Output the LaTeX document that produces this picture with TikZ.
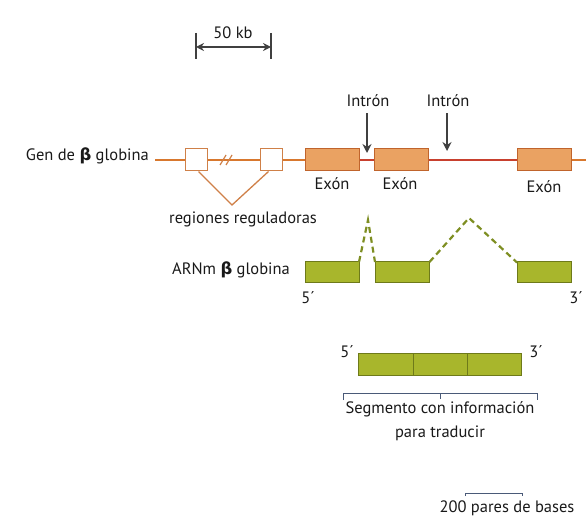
\documentclass[tikz,border=0pt]{standalone}
\usepackage{fontspec}
\setmainfont{PT Sans}
\newfontfamily\grk{DejaVu Sans}
\usetikzlibrary{arrows.meta}
\definecolor{geneline}{HTML}{D8782E}
\definecolor{intronline}{HTML}{C8402E}
\definecolor{exonfill}{HTML}{EAA262}
\definecolor{exondraw}{HTML}{C0642C}
\definecolor{regdraw}{HTML}{CF8048}
\definecolor{mrnafill}{HTML}{A8B62C}
\definecolor{mrnadraw}{HTML}{6E7A1A}
\definecolor{dashcol}{HTML}{7E8E22}
\definecolor{darkarrow}{HTML}{404040}
\definecolor{bracketcol}{HTML}{4A5A78}
\newcommand{\bet}{{\grk\bfseries β}}
\begin{document}
\begin{tikzpicture}[x=1pt,y=-1pt,
  font=\fontsize{16.5}{19}\selectfont,
  lbl/.style={inner sep=0pt, text=black!90},
  regbox/.style={draw=regdraw, fill=white, line width=1pt, minimum width=22pt, minimum height=22pt, inner sep=0pt},
  exonbox/.style={draw=exondraw, fill=exonfill, line width=1pt, minimum width=54pt, minimum height=22pt, inner sep=0pt},
  mrnabox/.style={draw=mrnadraw, fill=mrnafill, line width=1pt, minimum width=54pt, minimum height=21pt, inner sep=0pt},
  geneseg/.style={draw=geneline, line width=2.2pt},
  intronseg/.style={draw=intronline, line width=2.2pt},
  regline/.style={draw=regdraw, line width=1.3pt},
  dashline/.style={draw=dashcol, line width=2.2pt, dash pattern=on 6pt off 4pt},
  darrow/.style={draw=darkarrow, line width=1.8pt, -{Stealth[length=9pt,width=9pt]}},
  thinbar/.style={draw=bracketcol, line width=1pt}
]
\useasboundingbox (0,0) rectangle (586,521);

% 50 kb scale
\node[lbl] (kb) at (233,33) {50 kb};
\coordinate (kbL) at (196,47);
\coordinate (kbR) at (271,47);
\draw[darkarrow, line width=1.3pt] (196,33) -- (196,59);
\draw[darkarrow, line width=1.3pt] (271,33) -- (271,59);
\draw[darkarrow, line width=1.8pt, {Stealth[length=8pt,width=8pt]}-{Stealth[length=8pt,width=8pt]}] (kbL) -- (kbR);

% gene
\node[lbl, anchor=east] (genlbl) at (149,156) {Gen de \bet{} globina};
\coordinate (gstart) at (155,160);
\coordinate (gend) at (586,160);
\node[regbox] (r1) at (196.5,160) {};
\node[regbox] (r2) at (271.5,160) {};
\node[exonbox] (e1) at (332.5,160) {};
\node[exonbox] (e2) at (401.5,160) {};
\node[exonbox] (e3) at (544.5,160) {};
\draw[geneseg] (gstart) -- (r1.west);
\draw[geneseg] (r1.east) -- (r2.west);
\draw[geneseg] (r2.east) -- (e1.west);
\draw[intronseg] (e1.east) -- (e2.west);
\draw[intronseg] (e2.east) -- (e3.west);
\draw[geneseg] (e3.east) -- (gend);
% break marks
\draw[draw=regdraw, line width=1.2pt] (220,165) -- (226,155);
\draw[draw=regdraw, line width=1.2pt] (226,165) -- (232,155);

% regulatory V
\coordinate (vapex) at (232,205);
\draw[regline] ([xshift=2pt]r1.south) -- (vapex) -- ([xshift=-3pt]r2.south);
\node[lbl] (reglbl) at (243,219) {regiones reguladoras};

% introns
\node[lbl] (in1) at (368,101) {Intrón};
\node[lbl] (in2) at (448,101) {Intrón};
\coordinate (in1tip) at (367,153);
\coordinate (in2tip) at (447,151);
\draw[darrow] (in1.south -| in1tip) ++(0,6) -- (in1tip);
\draw[darrow] (in2.south -| in2tip) ++(0,6) -- (in2tip);

% exon labels
\node[lbl] (x1) at (332,184) {Exón};
\node[lbl] (x2) at (400,184) {Exón};
\node[lbl] (x3) at (544,187) {Exón};

% mRNA
\node[lbl, anchor=east] (mlbl) at (290,270) {ARNm \bet{} globina};
\node[mrnabox] (m1) at (332,272) {};
\node[mrnabox] (m2) at (402,272) {};
\node[mrnabox] (m3) at (544.5,272.5) {};
\coordinate (ap1) at (368,220);
\coordinate (ap2) at (469,218);
\draw[dashline] ([xshift=-0.5pt,yshift=-1pt]m1.north east) -- (ap1) -- ([xshift=0.5pt,yshift=-1pt]m2.north west);
\draw[dashline] ([yshift=-1pt]m2.north east) -- (ap2) -- ([yshift=-1pt]m3.north west);
\node[lbl] (m5) at (308,298) {5´};
\node[lbl] (m3p) at (576,298) {3´};

% coding segment
\node[mrnabox, minimum width=163pt, minimum height=22pt] (seg) at (439.5,364) {};
\draw[draw=mrnadraw, line width=1pt] (413,353) -- (413,375);
\draw[draw=mrnadraw, line width=1pt] (467,353) -- (467,375);
\node[lbl] (s5) at (347,352) {5´};
\node[lbl] (s3) at (536,352) {3´};
\coordinate (brL) at (343,393);
\coordinate (brR) at (537,393);
\coordinate (brC) at (440,393);
\draw[thinbar] ([yshift=-7pt]brL) -- (brL) -- (brR) -- ([yshift=-7pt]brR);
\draw[thinbar] (brC) -- ++(0,6);
\node[lbl, align=center, font=\fontsize{16.5}{24}\selectfont, anchor=north] (segtxt) at (440,401) {Segmento con información\\para traducir};

% 200 bp scale
\coordinate (bpL) at (465,493);
\coordinate (bpR) at (522,493);
\draw[thinbar] ([yshift=-3pt]bpL) -- (bpL) -- (bpR) -- ([yshift=-3pt]bpR);
\node[lbl] (bplbl) at (507,508) {200 pares de bases};
\end{tikzpicture}
\end{document}
